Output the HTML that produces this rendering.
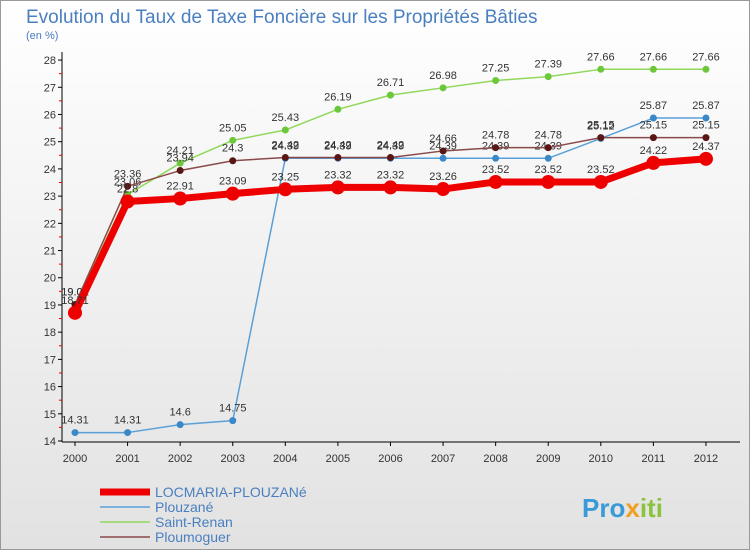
<!DOCTYPE html>
<html><head><meta charset="utf-8"><style>
body{margin:0;width:750px;height:550px;overflow:hidden;font-family:"Liberation Sans",sans-serif}
</style></head><body>
<svg id="c" width="750" height="550" xmlns="http://www.w3.org/2000/svg">
<defs><linearGradient id="bg" x1="0" y1="0" x2="0" y2="1"><stop offset="0" stop-color="#ffffff"/><stop offset="1" stop-color="#e2e2e2"/></linearGradient></defs>
<rect x="0.5" y="0.5" width="749" height="549" fill="url(#bg)" stroke="#999"/>
<text x="26" y="23" font-size="19" fill="#4a7fc0">Evolution du Taux de Taxe Foncière sur les Propriétés Bâties</text>
<text x="26" y="39" font-size="11" fill="#4a7fc0">(en %)</text>
<g id="axes"></g><g id="series"></g><g id="legend"></g>
<text x="582" y="517" font-size="26" font-weight="bold" fill="#3a9ad9">Pro<tspan fill="#f0a020">x</tspan><tspan fill="#8ac43f">iti</tspan></text>
</svg>
<script>
const years=[2000,2001,2002,2003,2004,2005,2006,2007,2008,2009,2010,2011,2012];
const yTicks=[14,15,16,17,18,19,20,21,22,23,24,25,26,27,28];
const names=["LOCMARIA-PLOUZANé","Plouzané","Saint-Renan","Ploumoguer"];
const locmaria=[18.71,22.8,22.91,23.09,23.25,23.32,23.32,23.26,23.52,23.52,23.52,24.22,24.37];
const plouzane=[14.31,14.31,14.6,14.75,24.39,24.39,24.39,24.39,24.39,24.39,25.12,25.87,25.87];
const saintRenan=[19.02,23.06,24.21,25.05,25.43,26.19,26.71,26.98,27.25,27.39,27.66,27.66,27.66];
const ploumoguer=[19.01,23.36,23.94,24.3,24.42,24.42,24.42,24.66,24.78,24.78,25.15,25.15,25.15];
const NS="http://www.w3.org/2000/svg";
const X=i=>75+i*52.58, Y=v=>441-(v-14)*27.21;
function mk(p,t,a){const e=document.createElementNS(NS,t);for(const k in a)e.setAttribute(k,a[k]);p.appendChild(e);return e;}
const ax=document.getElementById('axes');
const yl=mk(ax,'line',{x1:62,y1:52,x2:62,y2:442,stroke:'#000'});


const xl=mk(ax,'line',{x1:62,y1:442,x2:740,y2:442,stroke:'#000'});


yTicks.forEach(v=>{
 mk(ax,'line',{x1:58,x2:62,y1:Y(v),y2:Y(v),stroke:'#000'});
 if(v<28) mk(ax,'line',{x1:59,x2:62,y1:Y(v+0.5),y2:Y(v+0.5),stroke:'#e00'});
 const t=mk(ax,'text',{x:56,y:Y(v)+4,'font-size':11,'text-anchor':'end',fill:'#333'});
 t.textContent=v;
 
 
});
years.forEach((y,i)=>{
 mk(ax,'line',{x1:X(i),x2:X(i),y1:442,y2:446,stroke:'#000'});
 const t=mk(ax,'text',{x:X(i),y:462,'font-size':11,'text-anchor':'middle',fill:'#333'});
 t.textContent=y;
 
 
});
const sg=document.getElementById('series');
const defs=[[plouzane,'#5aa0d8','#3a88c8',1.5,3.5],[saintRenan,'#8fd85a','#6cc83a',1.5,3.5],[ploumoguer,'#8a4a4a','#5a1515',1.5,3.5],[locmaria,'#ee0000','#ee0000',7,7]];
const snames=['plouzane','saint-renan','ploumoguer','locmaria'];
defs.forEach((d,k)=>{
 const g=mk(sg,'g',{});
 
 
 const pl=mk(g,'polyline',{points:d[0].map((v,i)=>X(i)+','+Y(v)).join(' '),fill:'none',stroke:d[1],'stroke-width':d[3],'stroke-linejoin':'round'});
 
 
 d[0].forEach((v,i)=>{
  const c=mk(g,'circle',{cx:X(i),cy:Y(v),r:d[4],fill:d[2]});
  
  
  const t=mk(g,'text',{x:X(i),y:Y(v)-9,'font-size':11,'text-anchor':'middle',fill:'#333'});
  t.textContent=v.toFixed(2).replace(/0$/,'').replace(/\.$/,'');
  
  
 });
});
const lg=document.getElementById('legend');
const lc=[['#ee0000',7],['#5aa0d8',1.5],['#8fd85a',1.5],['#8a4a4a',1.5]];
names.forEach((n,i)=>{
 const y=492+i*15;
 const g=mk(lg,'g',{});
 
 
 mk(g,'line',{x1:100,x2:150,y1:y,y2:y,stroke:lc[i][0],'stroke-width':lc[i][1]});
 const t=mk(g,'text',{x:155,y:y+5,'font-size':14,fill:'#4a7fc0'});
 t.textContent=n;
});
</script>
</body></html>
